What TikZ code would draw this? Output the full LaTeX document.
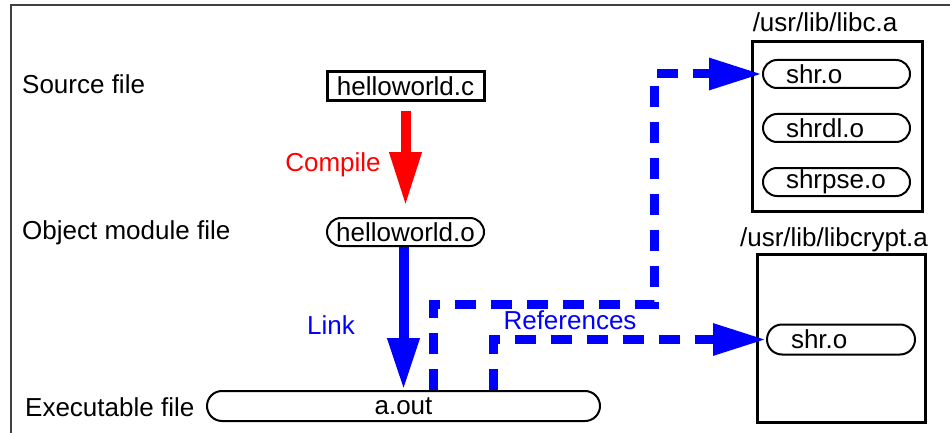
\documentclass[tikz,border=0pt]{standalone}
\usepackage{fontspec}
\setmainfont{Liberation Sans}
\usetikzlibrary{arrows.meta}
\begin{document}
\begin{tikzpicture}[x=1pt,y=-1pt,
  every node/.style={font=\fontsize{26}{30}\selectfont},
  caption/.style={inner sep=0pt, anchor=west},
  tag/.style={inner sep=0pt},
  filebox/.style={draw, line width=3pt, minimum width=157pt, minimum height=29pt, inner sep=0pt},
  pill/.style={draw, line width=2pt, rounded corners=14pt, minimum height=28pt, inner sep=0pt},
  member/.style={pill, anchor=west, text width=101pt, inner xsep=23pt, align=left},
  archive/.style={draw, line width=3pt},
  compileflow/.style={draw=red, line width=10pt, -{Triangle[length=54pt,width=30pt]}},
  linkflow/.style={draw=blue, line width=10pt, -{Triangle[length=52pt,width=30pt]}},
  refflow/.style={draw=blue, line width=9pt, line join=miter, dash pattern=on 21pt off 15pt,
    -{Triangle[length=53pt,width=30pt]}}
]
\useasboundingbox (0,0) rectangle (950,433);

% outer frame (top and left edges)
\draw[black!75, line width=1.5pt] (11,433) -- (11,5) -- (950,5);

% row captions
\node[caption] (lsrc) at (22,84) {Source file};
\node[caption] (lobj) at (22,233) {Object module file};
\node[caption] (lexe) at (25,407) {Executable file};

% files
\node[filebox] (src) at (405.5,86.5) {helloworld.c};
\node[pill, minimum width=157pt] (obj) at (405.5,232) {helloworld.o};
\node[pill, rounded corners=15pt, minimum width=393pt, minimum height=30pt] (exe) at (403.5,406) {a.out};

% libc archive
\node[tag] (libcname) at (825,22) {/usr/lib/libc.a};
\draw[archive] (752,42) rectangle (922,211);
\node[member] (libcshr) at (762,74) {shr.o};
\node[member] (libcshrdl) at (762,128) {shrdl.o};
\node[member] (libcshrpse) at (762,182) {shrpse.o};

% libcrypt archive
\node[tag] (cryptname) at (834,240) {/usr/lib/libcrypt.a};
\draw[archive] (757,254) rectangle (925,422);
\node[member, minimum height=30pt, rounded corners=15pt, text width=100pt, inner xsep=24pt] (cryptshr) at (766,339.5) {shr.o};

% compile and link steps
\draw[compileflow] ([yshift=-9pt]src.south) -- ([yshift=11pt]obj.north);
\node[tag, text=red] (lcompile) at (333,165) {Compile};
\draw[linkflow] ([xshift=-2pt]obj.south) -- ([xshift=-2pt]obj.south |- exe.north);
\node[tag, text=blue] (llink) at (331,325) {Link};

% references into the archives
\draw[refflow] ([xshift=29.5pt]exe.north) |- (654,304) |- (libcshr.west);
\draw[refflow] ([xshift=89.5pt]exe.north) |- (cryptshr.west);
\node[tag, text=blue] (lrefs) at (570,320) {References};
\end{tikzpicture}
\end{document}
